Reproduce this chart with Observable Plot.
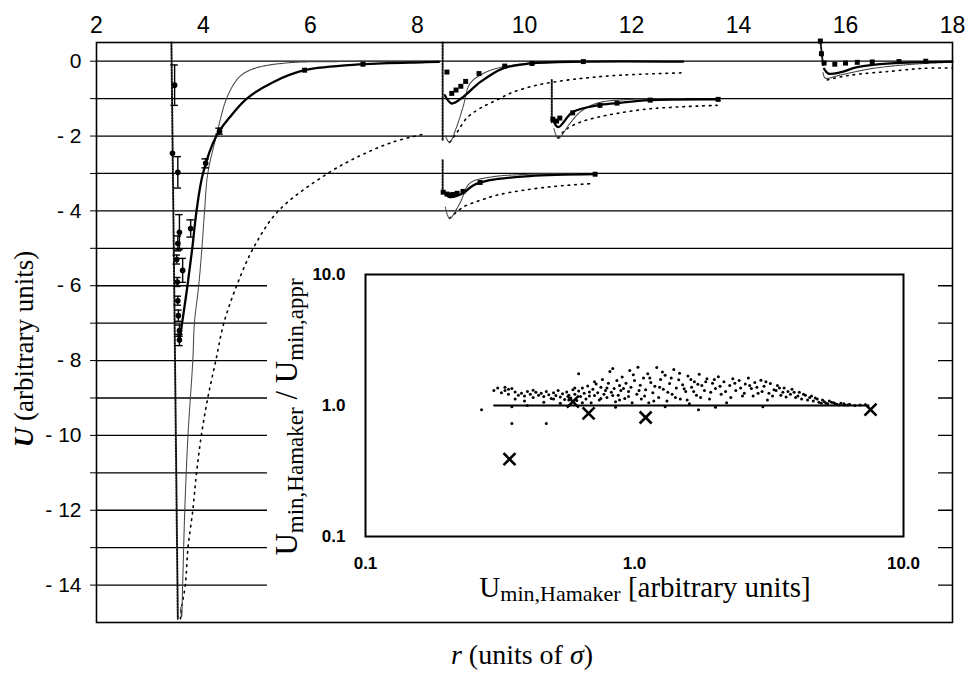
<!DOCTYPE html>
<html><head><meta charset="utf-8">
<script src="https://cdn.jsdelivr.net/npm/d3@7"></script>
<script src="https://cdn.jsdelivr.net/npm/@observablehq/plot@0.6"></script>
<style>
body{margin:0;background:#fff;}
#wrap{position:relative;width:969px;height:673px;overflow:hidden;}
#inset{position:absolute;left:267px;top:258px;}
</style></head>
<body><div id="wrap"><div id="main"></div><div id="inset"></div></div>
<script>
// ---------- main chart data (r in units of sigma, U arbitrary) ----------
const xTicks = [2,4,6,8,10,12,14,16,18];
const yGrid = [0,-1,-2,-3,-4,-5,-6,-7,-8,-9,-10,-11,-12,-13,-14];

// big potential (r ~ 3.5)
const wallMainR = [3.40, 3.46, 3.52];
const wallMainU = [0.5, -7.0, -14.9];
const thinMainR = [3.57,3.59,3.61,3.65,3.71,3.80,3.83,3.91,3.97,4.02,4.08,4.24,4.43,4.62,4.75,5.0,5.6,6.5,8.4];
const thinMainU = [-14.6,-14.85,-14.0,-12,-10,-8,-7,-6,-5,-4,-3,-2,-1,-0.5,-0.33,-0.17,-0.04,-0.01,0];
const thickMainR = [3.53,3.55,3.60,3.70,3.79,3.87,3.99,4.24,4.49,4.81,5.30,5.89,6.98,8.08,8.40];
const thickMainU = [-7.3,-7.45,-7.0,-6.0,-5.0,-4.0,-3.0,-2.0,-1.5,-1.0,-0.56,-0.24,-0.08,-0.03,-0.02];
const dotMainR = [3.57,3.59,3.66,3.71,3.80,3.87,3.96,4.08,4.23,4.38,4.62,4.93,5.40,6.32,6.98,7.54,8.08];
const dotMainU = [-14.9,-14.6,-14,-13,-12,-11,-10,-9,-8,-7,-6,-5,-4,-3.0,-2.49,-2.16,-1.96];
const errR = [3.46,3.42,3.52,3.55,3.52,3.61,3.76,4.04,4.30,3.50,3.51,3.52,3.53,3.55,3.55];
const errU = [-0.64,-2.46,-2.97,-4.57,-4.87,-5.59,-4.47,-2.73,-1.87,-5.3,-5.9,-6.4,-6.8,-7.2,-7.45];
const errE = [0.54,0.0,0.42,0.47,0.2,0.32,0.23,0.12,0.08,0.12,0.12,0.12,0.15,0.15,0.15];
const mainMarkR = [5.89,6.98];
const mainMarkU = [-0.24,-0.08];

// group A (r ~ 8.5, baseline 0)
const wallAR = [8.47,8.47]; const wallAU = [0.5,-2.1];
const thinAR = [8.52,8.60,8.72,8.85,8.98,9.20,9.48,10.1,11.0,12.5];
const thinAU = [-2.0,-2.17,-1.8,-1.23,-0.6,-0.35,-0.19,-0.05,-0.01,0];
const thickAR = [8.51,8.64,8.85,9.17,9.60,10.1,11.1,12.97];
const thickAU = [-0.91,-1.13,-0.96,-0.56,-0.19,-0.06,-0.01,-0.01];
const dataAR = [8.55,8.64,8.72,8.81,8.90,9.15,9.63,10.14,11.1];
const dataAU = [-0.29,-0.86,-0.77,-0.67,-0.54,-0.33,-0.13,-0.06,-0.01];
const dotAR = [8.60,8.74,8.92,9.17,9.48,9.78,10.23,10.72,11.2,11.84,12.97];
const dotAU = [-2.17,-1.9,-1.52,-1.26,-1.04,-0.83,-0.64,-0.52,-0.44,-0.37,-0.31];

// group B (r ~ 10.5, baseline -1)
const wallBR = [10.51,10.51]; const wallBU = [-0.5,-1.63];
const thinBR = [10.55,10.63,10.85,11.04,11.36,11.97,13.0];
const thinBU = [-1.8,-2.06,-1.66,-1.36,-1.12,-1.02,-1.0];
const thickBR = [10.53,10.63,10.90,11.36,11.73,12.35,13.62];
const thickBU = [-1.55,-1.76,-1.36,-1.18,-1.12,-1.04,-1.02];
const dataBR = [10.53,10.60,10.66,10.90,11.41,11.73,12.35,13.62];
const dataBU = [-1.55,-1.6,-1.52,-1.38,-1.18,-1.12,-1.04,-1.02];
const dotBR = [10.63,10.76,11.04,11.36,11.75,12.29,12.91,13.6];
const dotBU = [-2.06,-1.84,-1.63,-1.5,-1.39,-1.28,-1.22,-1.18];

// group C (r ~ 8.5, baseline -3)
const wallCR = [8.47,8.47]; const wallCU = [-2.65,-3.53];
const thinCR = [8.52,8.60,8.79,8.98,9.35,10.1,11.0];
const thinCU = [-3.9,-4.2,-3.8,-3.26,-3.1,-3.02,-3.0];
const thickCR = [8.50,8.60,8.85,9.04,9.35,10.1,11.32];
const thickCU = [-3.5,-3.63,-3.53,-3.32,-3.18,-3.07,-3.02];
const dataCR = [8.48,8.55,8.60,8.67,8.74,8.85,9.17,11.32];
const dataCU = [-3.5,-3.55,-3.57,-3.56,-3.53,-3.48,-3.24,-3.02];
const dotCR = [8.60,8.85,9.17,9.48,9.97,10.6,11.26];
const dotCU = [-4.2,-3.9,-3.72,-3.58,-3.45,-3.34,-3.27];

// group D (r ~ 15.5, baseline 0)
const wallDR = [15.53,15.58]; const wallDU = [0.54,-0.1];
const thinDR = [15.58,15.62,15.9,16.52,17.46,18.0];
const thinDU = [-0.3,-0.45,-0.37,-0.19,-0.06,-0.03];
const thickDR = [15.60,15.68,15.9,16.22,16.84,18.0];
const thickDU = [-0.2,-0.33,-0.3,-0.16,-0.06,-0.01];
const dataDR = [15.53,15.55,15.60,15.80,16.0,16.22,16.5,17.0,17.5];
const dataDU = [0.54,0.2,-0.05,-0.08,-0.05,-0.03,-0.02,-0.01,0.0];
const dotDR = [15.66,15.9,16.22,16.84,17.46,18.0];
const dotDU = [-0.5,-0.42,-0.35,-0.27,-0.19,-0.18];

// ---------- inset data ----------
const insetTicks = [0.1,1,10];
const insetDots = [
[0.27,0.93],[0.30,1.30],[0.31,1.36],[0.32,1.25],[0.33,1.38],[0.33,1.30],[0.34,1.33],[0.34,1.22],[0.35,1.35],[0.35,0.98],
[0.35,0.73],[0.36,1.27],[0.37,1.20],[0.38,1.24],[0.39,1.18],[0.40,1.28],[0.40,1.00],[0.41,1.22],[0.42,1.15],[0.43,1.26],
[0.44,1.20],[0.45,1.24],[0.46,1.17],[0.47,0.73],[0.47,1.28],[0.48,1.21],[0.49,1.13],[0.50,1.25],[0.51,1.19],[0.52,1.30],
[0.53,1.16],[0.54,1.23],[0.55,1.11],[0.56,1.27],[0.57,1.20],[0.58,1.14],[0.59,1.32],[0.60,1.22],[0.61,1.09],[0.62,1.75],
[0.62,1.29],[0.63,1.17],[0.64,1.36],[0.65,1.24],[0.66,1.12],[0.67,1.41],[0.68,1.27],[0.69,1.05],[0.70,1.33],[0.71,1.19],
[0.72,1.46],[0.73,1.25],[0.74,1.10],[0.75,1.38],[0.76,1.58],[0.77,1.22],[0.78,1.30],[0.79,1.15],[0.80,1.48],[0.81,1.82],
[0.82,1.26],[0.83,1.92],[0.84,1.35],[0.85,1.07],[0.85,0.97],[0.86,1.55],[0.87,1.20],[0.88,1.42],[0.89,1.30],[0.90,1.65],
[0.92,1.13],[0.93,1.48],[0.95,1.28],[0.96,1.85],[0.97,1.38],[0.98,1.05],[1.00,1.55],[1.02,1.22],[1.03,1.96],[1.05,1.43],
[1.06,1.12],[1.08,1.62],[1.10,1.32],[1.12,1.75],[1.13,1.05],[1.15,1.50],[1.17,1.25],[1.19,1.40],[1.21,1.95],[1.23,1.15],
[1.25,1.58],[1.28,1.33],[1.30,1.70],[1.30,0.98],[1.32,1.08],[1.35,1.47],[1.38,1.22],[1.40,1.88],[1.43,1.36],[1.46,1.57],
[1.48,1.12],[1.51,1.44],[1.55,1.28],[1.58,1.68],[1.60,1.03],[1.63,1.38],[1.67,1.52],[1.70,1.20],[1.73,0.93],[1.74,1.73],
[1.78,1.42],[1.82,1.30],[1.86,1.60],[1.90,1.12],[1.95,1.48],[2.00,1.35],[2.00,0.97],[2.05,1.66],[2.10,1.22],[2.15,1.52],
[2.20,1.05],[2.26,1.42],[2.32,1.60],[2.38,1.30],[2.45,1.55],[2.52,1.18],[2.58,1.46],[2.65,1.62],[2.72,1.35],[2.80,1.50],
[2.88,1.24],[2.95,1.56],[3.00,0.98],[3.03,1.40],[3.12,1.10],[3.20,1.47],[3.30,1.32],[3.40,1.42],[3.50,1.20],[3.60,1.36],
[3.72,1.28],[3.85,1.33],[3.97,1.15],[4.10,1.26],[4.25,1.22],[4.40,1.10],[4.55,1.18],[4.70,1.14],[4.85,1.06],[5.00,1.10],
[5.15,1.04],[5.30,1.08],[5.50,1.05],[5.65,1.02],[5.85,1.04],[6.05,1.01],[6.30,1.02],[6.60,1.00],[6.90,1.01],
[0.36,1.12],[0.39,1.08],[0.42,1.31],[0.46,1.06],[0.50,1.12],[0.53,1.04],[0.57,1.10],[0.60,1.36],[0.64,1.05],[0.68,1.18],
[0.71,1.52],[0.75,1.13],[0.79,1.36],[0.83,1.19],[0.88,1.10],[0.91,1.35],[0.95,1.17],[0.99,1.72],[1.04,1.30],[1.09,1.18],
[1.14,1.62],[1.18,1.08],[1.24,1.38],[1.27,1.80],[1.33,1.26],[1.37,1.62],[1.42,1.15],[1.47,1.76],[1.53,1.34],[1.57,1.10],
[1.62,1.58],[1.66,1.28],[1.72,1.45],[1.76,1.15],[1.84,1.52],[1.92,1.26],[1.98,1.58],[2.08,1.40],[2.18,1.28],[2.28,1.15],
[2.36,1.48],[2.48,1.36],[2.56,1.24],[2.68,1.42],[2.76,1.18],[2.85,1.38],[2.98,1.28],[3.08,1.52],[3.16,1.24],[3.26,1.18],
[3.36,1.30],[3.46,1.36],[3.56,1.26],[3.66,1.16],[3.80,1.22],[3.92,1.26],[4.05,1.18],[4.18,1.12],[4.32,1.20],[4.48,1.15],
[4.62,1.08],[4.78,1.12],[4.95,1.04],[5.08,1.07],[5.22,1.03],[5.40,1.06],[5.58,1.03],[5.75,1.01],[6.00,1.03],[6.20,1.01]
];
const insetCross = [[0.343,0.39],[0.59,1.07],[0.675,0.87],[1.10,0.81],[7.54,0.93]];
const refLine = [{x1:0.30, x2:7.5, y:1}];

// ---------- helpers ----------
const pts = (R,U) => R.map((r,i)=>({r, u:U[i]}));
const thinS = {x:"r", y:"u", stroke:"#444", strokeWidth:1.1, strokeDasharray:"1.2,0.8", curve:"catmull-rom"};
const thickS = {x:"r", y:"u", stroke:"#000", strokeWidth:2.3, curve:"catmull-rom"};
const dotS = {x:"r", y:"u", stroke:"#000", strokeWidth:1.6, strokeDasharray:"1.6,5", curve:"catmull-rom"};
const wallS = {x:"r", y:"u", stroke:"#111", strokeWidth:2, strokeDasharray:"1.5,1.5"};
const markS = {x:"r", y:"u", fill:"#000", symbol:"square", r:2.8};

const errData = errR.map((r,i)=>({r, u:errU[i], e:errE[i]}));
const errBars = errData.filter(d=>d.e>0);

const groups = [
  [wallMainR,wallMainU,thinMainR,thinMainU,thickMainR,thickMainU,dotMainR,dotMainU,mainMarkR,mainMarkU],
  [wallAR,wallAU,thinAR,thinAU,thickAR,thickAU,dotAR,dotAU,dataAR,dataAU],
  [wallBR,wallBU,thinBR,thinBU,thickBR,thickBU,dotBR,dotBU,dataBR,dataBU],
  [wallCR,wallCU,thinCR,thinCU,thickCR,thickCU,dotCR,dotCU,dataCR,dataCU],
  [wallDR,wallDU,thinDR,thinDU,thickDR,thickDU,dotDR,dotDU,dataDR,dataDU]
];
const curveMarks = [];
for (const g of groups) {
  curveMarks.push(Plot.line(pts(g[0],g[1]), wallS));
  curveMarks.push(Plot.line(pts(g[6],g[7]), dotS));
  curveMarks.push(Plot.line(pts(g[2],g[3]), thinS));
  curveMarks.push(Plot.line(pts(g[4],g[5]), thickS));
  curveMarks.push(Plot.dot(pts(g[8],g[9]), markS));
}

const main = Plot.plot({
  width: 969, height: 673,
  marginTop: 42, marginBottom: 51, marginLeft: 96, marginRight: 17,
  style: {fontFamily: "Liberation Sans, Arial, sans-serif", fontSize: "21px", color: "#000", background: "#fff"},
  x: {domain: [2,18], label: null},
  y: {domain: [-15,0.5], label: null},
  marks: [
    Plot.axisX({anchor: "top", ticks: xTicks, tickSize: 0, tickPadding: 10, fontSize: 23, label: null}),
    Plot.axisY({ticks: yGrid, tickSize: 6, tickPadding: 9, fontSize: 21, label: null,
      tickFormat: d => (d % 2 !== 0) ? "" : (d === 0 ? "0" : "- " + Math.abs(d))}),
    Plot.ruleY(yGrid, {stroke: "#000", strokeWidth: 1.3}),
    ...curveMarks,
    Plot.ruleX(errBars, {x: "r", y1: d => d.u - d.e, y2: d => d.u + d.e, stroke: "#000", strokeWidth: 1.4}),
    Plot.ruleY(errBars, {y: d => d.u + d.e, x1: d => d.r - 0.07, x2: d => d.r + 0.07, stroke: "#000", strokeWidth: 1.4}),
    Plot.ruleY(errBars, {y: d => d.u - d.e, x1: d => d.r - 0.07, x2: d => d.r + 0.07, stroke: "#000", strokeWidth: 1.4}),
    Plot.dot(errData, {x: "r", y: "u", fill: "#000", r: 2.8}),
    Plot.frame({stroke: "#000", strokeWidth: 1.6})
  ]
});
document.getElementById("main").append(main);

const ms = d3.select(main);
const yl = ms.append("text").attr("transform", "translate(33,349) rotate(-90)")
  .attr("text-anchor", "middle").style("font-family", "Liberation Serif, serif").style("font-size", "27px");
yl.append("tspan").style("font-weight", "bold").style("font-style", "italic").text("U");
yl.append("tspan").text(" (arbitrary units)");
const xl = ms.append("text").attr("x", 522).attr("y", 664).attr("text-anchor", "middle")
  .style("font-family", "Liberation Serif, serif").style("font-size", "28px");
xl.append("tspan").style("font-style", "italic").text("r");
xl.append("tspan").text(" (units of ");
xl.append("tspan").style("font-style", "italic").text("σ");
xl.append("tspan").text(")");

// ---------- inset ----------
const inset = Plot.plot({
  width: 671, height: 360,
  marginTop: 16, marginBottom: 82, marginLeft: 98, marginRight: 35,
  style: {fontFamily: "Liberation Sans, Arial, sans-serif", fontSize: "17px", fontWeight: "bold", color: "#000", background: "#fff"},
  x: {type: "log", domain: [0.1,10], ticks: insetTicks, tickFormat: d3.format(".1f"), tickSize: 0, tickPadding: 20, label: null},
  y: {type: "log", domain: [0.1,10], ticks: insetTicks, tickFormat: d3.format(".1f"), tickSize: 0, tickPadding: 20, label: null},
  marks: [
    Plot.ruleY(refLine, {y: "y", x1: "x1", x2: "x2", stroke: "#000", strokeWidth: 2}),
    Plot.dot(insetDots, {x: d => d[0], y: d => d[1], fill: "#000", r: 1.5}),
    Plot.dot(insetCross, {x: d => d[0], y: d => d[1], symbol: "times", stroke: "#000", strokeWidth: 2.6, r: 5.5}),
    Plot.frame({stroke: "#000", strokeWidth: 2})
  ]
});
document.getElementById("inset").append(inset);
const is = d3.select(inset);
const iyl = is.append("text").attr("transform", "translate(30,159) rotate(-90)")
  .attr("text-anchor", "middle").style("font-family", "Liberation Serif, serif").style("font-size", "31px").style("font-weight", "normal");
iyl.append("tspan").text("U");
iyl.append("tspan").attr("dy", 6).style("font-size", "23px").text("min,Hamaker");
iyl.append("tspan").attr("dy", -6).text(" / U");
iyl.append("tspan").attr("dy", 6).style("font-size", "23px").text("min,appr");
const ixl = is.append("text").attr("x", 378).attr("y", 339).attr("text-anchor", "middle")
  .style("font-family", "Liberation Serif, serif").style("font-size", "29px").style("font-weight", "normal");
ixl.append("tspan").text("U");
ixl.append("tspan").attr("dy", 4).style("font-size", "22px").text("min,Hamaker");
ixl.append("tspan").attr("dy", -4).text(" [arbitrary units]");
</script></body></html>
